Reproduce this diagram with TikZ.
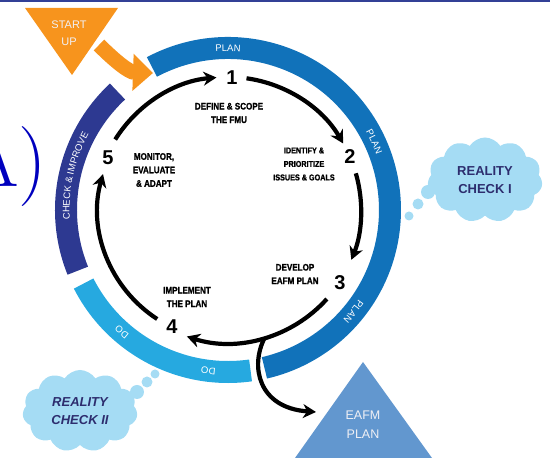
\documentclass[tikz,border=0pt]{standalone}
\usepackage{fontspec}
\setmainfont{Liberation Sans}
\newfontfamily\lblfont[FakeStretch=0.85,FakeBold=1.2]{Liberation Sans}
\newfontfamily\serifparen{Latin Modern Roman}
\usetikzlibrary{arrows.meta,shapes.symbols,shapes.geometric,decorations.text,calc}
\definecolor{planc}{RGB}{17,114,186}
\definecolor{doc}{RGB}{38,169,224}
\definecolor{checkc}{RGB}{45,57,145}
\definecolor{orangec}{RGB}{247,148,29}
\definecolor{eafmc}{RGB}{98,151,207}
\definecolor{cloudc}{RGB}{165,220,244}
\definecolor{cloudtext}{RGB}{45,45,110}
\definecolor{parenc}{RGB}{0,0,190}
\definecolor{topline}{RGB}{50,64,150}
\definecolor{paletext}{RGB}{240,240,245}
\newcommand\bandfont{\fontsize{9.5}{9.5}\selectfont}
\newcommand\bandlabel[3]{\path[decorate,decoration={text along path,text align=center,text color=white,text={|\bandfont|#3}}] (C) ++(#1:158.5pt) arc[start angle=#1,end angle=#2,radius=158.5pt];}
\begin{document}
\begin{tikzpicture}[x=1pt,y=1pt,
  band/.style={line width=22pt},
  cyc/.style={line width=4.2pt,-{Stealth[length=13pt,width=14pt]}},
  num/.style={font=\fontsize{20}{20}\selectfont\bfseries,inner sep=0pt},
  lbl/.style={font=\lblfont\fontsize{9.5}{13.5}\selectfont\bfseries,align=center,inner sep=0pt},
  cloudbox/.style={cloud,cloud puffs=11,cloud puff arc=115,aspect=1.4,fill=cloudc,draw=none,inner sep=0pt,
    text=cloudtext,align=center,font=\fontsize{13}{18}\selectfont\bfseries},
  bubble/.style={fill=cloudc},
  tritext/.style={text=paletext,align=center,inner sep=0pt}
]
\useasboundingbox (0,0) rectangle (550,458);
\clip (0,0) rectangle (550,458);
\fill[topline] (0,456) rectangle (550,458);
\coordinate (C) at (228,248);

% partial "(A)" label
\node[anchor=base east,inner sep=0pt,text=parenc,font=\serifparen\fontsize{80}{80}\selectfont] (paren) at (47,271) {A)};

% ring bands
\draw[band,planc] (C) ++(118:162pt) arc[start angle=118,end angle=-77,radius=162pt];
\draw[band,doc] (C) ++(-82:162pt) arc[start angle=-82,end angle=-153,radius=162pt];
\draw[band,checkc] (C) ++(-158:162pt) arc[start angle=-158,end angle=-227,radius=162pt];

% band labels
\bandlabel{102}{78}{PLAN}
\bandlabel{37}{13}{PLAN}
\bandlabel{-27}{-51}{PLAN}
\bandlabel{-86}{-108}{DO}
\bandlabel{-120}{-142}{DO}
\bandlabel{202}{133}{CHECK {\&} IMPROVE}

% start-up triangle and arrow
\fill[orangec] (25,450) -- (118,450) -- (72,383) -- cycle;
\node[tritext,font=\fontsize{11}{17}\selectfont] (start) at (69,425) {START\\UP};
\coordinate (oa) at (99,413);
\coordinate (ob) at (153,385);
\draw[orangec,line width=15pt,-{Triangle[length=20pt,width=36pt]}] (oa) to[out=-45,in=178] (ob);

% EAFM plan triangle
\fill[eafmc] (363,96) -- (432,0) -- (295,0) -- cycle;
\node[tritext,font=\fontsize{12.5}{19}\selectfont] (eafm) at (363,33) {EAFM\\PLAN};

% step numbers
\node[num] (n1) at (232,380) {1};
\node[num] (n2) at (350,301) {2};
\node[num] (n3) at (340,175) {3};
\node[num] (n4) at (172,131) {4};
\node[num] (n5) at (108,300) {5};

% step labels
\node[lbl] (t1) at (229,345) {DEFINE \& SCOPE\\THE FMU};
\node[lbl,font=\lblfont\fontsize{8.5}{13.5}\selectfont\bfseries] (t2) at (304,294) {IDENTIFY \&\\PRIORITIZE\\ISSUES \& GOALS};
\node[lbl] (t3) at (295,184) {DEVELOP\\EAFM PLAN};
\node[lbl] (t4) at (187,161) {IMPLEMENT\\THE PLAN};
\node[lbl] (t5) at (154,288) {MONITOR,\\EVALUATE\\\& ADAPT};

% cycle arrows
\draw[cyc] (C) ++(148:133pt) arc[start angle=148,end angle=95,radius=133pt];
\draw[cyc] (C) ++(82:133pt) arc[start angle=82,end angle=30,radius=133pt];
\draw[cyc] (C) ++(16:133pt) arc[start angle=16,end angle=-22,radius=133pt];
\draw[cyc] (C) ++(-42:133pt) arc[start angle=-42,end angle=-108,radius=133pt];
\coordinate (br) at ($(C)+(-74:133pt)$);
\coordinate (ep) at (316,46);
\draw[cyc] (br) .. controls (250,92) and (258,50) .. (ep);
\draw[cyc] (C) ++(237:130pt) arc[start angle=237,end angle=164,radius=130pt];

% clouds
\node[cloudbox,minimum width=115pt,minimum height=85pt] (rc1) at (485,278) {REALITY\\CHECK I};
\fill[bubble] (428,266) circle (7pt);
\fill[bubble] (418,254) circle (5.5pt);
\fill[bubble] (409,242) circle (4.5pt);
\node[cloudbox,minimum width=115pt,minimum height=82pt,font=\fontsize{13}{18}\selectfont\bfseries\itshape] (rc2) at (80,47) {REALITY\\CHECK II};
\fill[bubble] (137,66) circle (7pt);
\fill[bubble] (147,76) circle (5.5pt);
\fill[bubble] (155,84) circle (4.5pt);
\end{tikzpicture}
\end{document}
